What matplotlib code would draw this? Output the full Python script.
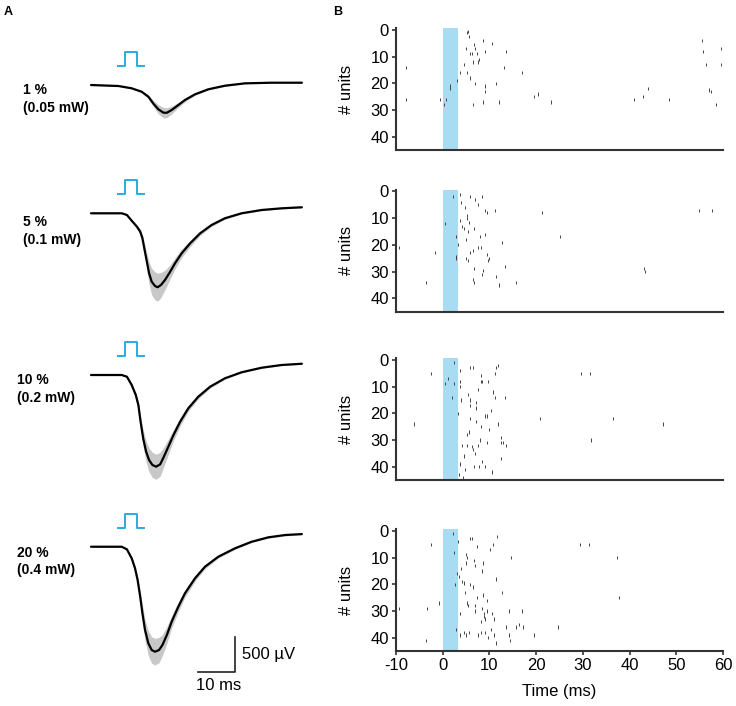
import matplotlib
matplotlib.use('Agg')
matplotlib.rc('font', **{'family': 'sans-serif', 'sans-serif': ['Liberation Sans', 'DejaVu Sans']})
matplotlib.rc('axes', unicode_minus=False)
import numpy as np
import matplotlib.pyplot as plt

# Panel A: mean field response (uV) vs time (ms), one trace per light power.
power_labels = ['1 %\n(0.05 mW)', '5 %\n(0.1 mW)', '10 %\n(0.2 mW)', '20 %\n(0.4 mW)']

t_1 = [-9.2, -1.8, 1.8, 4.5, 6.3, 7.6, 9.0, 10.4, 11.3, 12.6, 14.4, 16.2, 18.9, 22.5, 27.0, 32.4, 39.6, 47.8]
v_1 = [0, -14, -47, -96, -167, -262, -347, -396, -396, -357, -286, -214, -133, -61, -10, 24, 33, 33]
sem_1 = [5, 5, 8, 12, 25, 45, 65, 75, 70, 55, 35, 25, 15, 10, 8, 6, 5, 5]

t_5 = [-9.2, -0.9, 0.5, 1.8, 3.2, 4.1, 4.7, 5.2, 5.9, 6.5, 7.2, 8.1, 8.8, 9.7, 10.8, 12.2, 13.5, 15.3, 17.6,
       20.3, 23.4, 27.0, 31.5, 36.9, 42.3, 47.8]
v_5 = [0, 0, -24, -106, -191, -263, -357, -500, -692, -857, -977, -1039, -1057, -1025, -953, -835, -715, -572,
       -429, -286, -167, -71, 0, 47, 71, 86]
sem_5 = [5, 5, 8, 15, 25, 35, 50, 80, 120, 160, 190, 200, 200, 180, 140, 100, 80, 60, 45,
         30, 20, 15, 10, 10, 8, 8]

t_10 = [-9.2, -0.9, 0.5, 1.8, 2.9, 3.6, 4.2, 4.9, 5.7, 6.5, 7.4, 8.4, 9.5, 10.5, 11.7, 13.1, 14.9, 17.1, 19.8,
        23.0, 27.0, 31.5, 36.9, 42.3, 47.8]
v_10 = [0, 0, -24, -143, -286, -429, -667, -905, -1096, -1215, -1286, -1310, -1276, -1167, -1025, -857, -667,
        -476, -310, -167, -47, 39, 104, 143, 161]
sem_10 = [5, 5, 8, 20, 35, 50, 80, 120, 150, 170, 180, 180, 170, 140, 110, 80, 60, 40, 30,
          20, 12, 10, 8, 8, 8]

t_20 = [-9.2, -0.9, 0.5, 1.8, 2.7, 3.4, 4.1, 4.7, 5.4, 6.3, 7.2, 8.1, 9.2, 10.1, 11.3, 12.6, 14.4, 16.2, 18.9,
        21.6, 25.2, 29.7, 34.2, 38.7, 43.2, 47.8]
v_20 = [0, 0, -37, -166, -309, -476, -715, -952, -1190, -1380, -1476, -1500, -1476, -1405, -1262, -1072, -857,
        -666, -452, -286, -143, -23, 71, 134, 167, 181]
sem_20 = [5, 5, 8, 20, 35, 50, 80, 120, 150, 175, 190, 190, 180, 150, 120, 90, 70, 55, 40,
          30, 20, 15, 12, 12, 12, 12]

pulse_ms = 3.2

# Panel B: spike rasters, (time ms, unit index) per light power.
spk_t_1 = [-7.8, -7.8, -0.5, 0.2, 0.6, 1.5, 1.6, 3.1, 3.6, 4.5, 4.9, 5.1, 5.2, 5.4, 5.6, 5.8, 5.9, 6.3, 6.5, 6.6,
           6.9, 7.0, 7.4, 7.6, 7.7, 6.5, 8.6, 9.0, 9.1, 9.1, 8.6, 10.6, 11.4, 12.1, 13.1, 13.6, 17.0, 19.6, 20.4,
           23.2, 40.9, 42.9, 44.0, 48.4, 55.6, 55.8, 56.4, 57.1, 57.4, 58.6, 59.5, 59.6]
spk_u_1 = [14, 26, 26, 28, 26, 21, 22, 19, 16, 13, 7, 16, 1, 0.6, 2.5, 9, 18, 9, 12, 5.6,
           7, 20, 9, 12, 11, 28, 4, 23, 21, 8, 27, 5, 20, 27, 14, 8, 16, 25, 24,
           27, 26, 25, 22, 26, 4, 8, 13, 22.5, 23, 28, 7, 13]

spk_t_5 = [-9.3, -3.6, -1.6, 0.4, 2.2, 2.9, 3.2, 2.9, 2.8, 3.6, 4.0, 3.8, 4.1, 4.5, 4.7, 4.9, 4.9, 5.1, 5.2, 5.4,
           5.6, 5.4, 5.8, 5.9, 6.5, 6.6, 6.6, 6.5, 6.6, 7.0, 7.6, 7.6, 7.9, 8.3, 8.4, 8.4, 8.6, 9.1, 9.4, 9.1,
           9.5, 9.9, 9.6, 11.1, 11.4, 12.1, 12.6, 13.4, 15.6, 21.3, 25.1, 43.1, 43.3, 54.9, 57.7]
spk_u_5 = [21, 34, 23, 12, 2, 17, 20, 24.5, 25, 1, 4, 11, 13, 14, 6, 18, 25, 9, 10, 15,
           11.5, 26, 2, 23, 22, 14, 29, 33, 34, 3, 5, 21, 17, 21, 2, 31, 29.5, 7, 8, 16,
           23.5, 25, 26, 7, 32, 35, 19, 28, 34, 8, 17, 29, 30, 7, 7]

spk_t_10 = [-6.2, -2.5, 0.4, 1.1, 2.0, 2.4, 2.5, 3.2, 3.4, 3.6, 3.8, 3.8, 3.6, 4.0, 4.1, 4.5, 4.4, 4.7, 5.1, 5.2,
            5.4, 5.6, 5.8, 5.8, 5.9, 5.9, 6.5, 6.3, 6.5, 6.6, 7.0, 7.1, 7.2, 7.2, 7.6, 7.6, 7.7, 7.9, 8.1, 8.1,
            8.3, 8.4, 8.4, 9.0, 9.1, 9.4, 9.4, 9.6, 10.0, 10.4, 10.6, 10.8, 11.1, 11.1, 11.3, 11.9, 11.9, 12.4,
            12.5, 12.4, 12.9, 13.4, 13.6, 20.9, 29.6, 31.5, 31.8, 36.4, 47.1]
spk_u_10 = [24, 5, 9, 7, 14, 1, 9, 20, 43, 4, 8, 10, 39, 15, 32, 36, 44, 41, 32, 28,
            13, 27, 22, 17, 15, 3, 3, 32.5, 33.5, 40, 35, 16, 18, 23, 11, 32, 40, 30, 6, 8,
            25, 8, 38, 21, 40, 21, 31, 8, 26, 19, 42, 12, 14, 5, 3, 2, 24, 37,
            29, 31, 31, 14, 32, 22, 5, 5, 30, 22, 24]

spk_t_20 = [-9.3, -3.6, -3.4, -2.6, -0.9, 2.1, 2.4, 2.7, 2.9, 3.1, 3.3, 3.4, 3.8, 3.8, 4.0, 4.1, 4.5, 4.5, 4.7, 4.9,
            4.9, 5.0, 5.2, 5.2, 5.4, 5.6, 5.8, 5.9, 6.3, 6.5, 6.8, 6.9, 7.0, 7.0, 7.4, 7.4, 7.6, 8.1, 8.2, 8.4,
            8.6, 8.4, 8.6, 8.8, 8.9, 9.1, 9.1, 9.4, 9.5, 9.7, 10.1, 10.4, 10.6, 10.7, 10.9, 10.9, 11.3, 11.4,
            11.6, 12.7, 13.6, 14.1, 14.1, 14.4, 14.7, 15.7, 16.3, 16.9, 17.1, 19.5, 24.7, 29.3, 31.3, 37.4, 37.7]
spk_u_20 = [29, 41, 29, 5, 27, 1, 8, 20, 37, 16, 4, 17, 31, 39, 14, 19, 19.5, 38, 23, 12,
            9, 39, 10, 27, 28, 38, 3, 20, 3, 21, 11, 13, 28, 30, 6, 25, 39, 34, 38, 15,
            12, 29, 24, 31, 32, 33, 38, 26, 30, 40, 7, 37, 31, 5, 33, 39, 42, 18,
            2, 23, 36, 30, 39, 41, 10, 36, 35, 30, 36, 39, 36, 5, 5, 10, 25]

traces = [(t_1, v_1, sem_1), (t_5, v_5, sem_5), (t_10, v_10, sem_10), (t_20, v_20, sem_20)]
rasters = [(spk_t_1, spk_u_1), (spk_t_5, spk_u_5), (spk_t_10, spk_u_10), (spk_t_20, spk_u_20)]

W, H = 736, 706
fig = plt.figure(figsize=(W / 100, H / 100), dpi=100)

# ---- Panel A (one axes, data in ms / uV, rows stacked by offset) ----
ax_a = fig.add_axes([0, 0, 330 / W, 1])
ax_a.set_xlim(-33.8, 55.4)
ax_a.set_ylim(-8874, 1215)
ax_a.axis('off')

row_offsets = [0, -1833, -4144, -6598]
label_pos = [(22.7, 99.2), (22.7, 230.8), (16.7, 388.7), (16.7, 561.5)]
for (t, v, sem), off, label, (lx, ly) in zip(traces, row_offsets, power_labels, label_pos):
    t = np.array(t)
    v = np.array(v) + off
    sem = np.array(sem)
    ax_a.fill_between(t, v - sem, v + sem, color='#c8c8c8', linewidth=0)
    ax_a.plot(t, v, color='black', lw=1.6, solid_joinstyle='round', solid_capstyle='round')
    # light pulse
    base = off + 270
    ax_a.plot([-1.9, 0, 0, pulse_ms, pulse_ms, 5.1],
              [base, base, base + 200, base + 200, base, base],
              color='#29abe2', lw=1.4)
    fig.text(lx / W, 1 - ly / H, label, fontsize=10, fontweight='bold',
             ha='left', va='center', linespacing=1.35)

# scale bar: 10 ms, 500 uV
ax_a.plot([19.7, 29.7, 29.7], [-8388, -8388, -7888], color='#222222', lw=1.2)
fig.text(242 / W, 1 - 655 / H, '500 µV', fontsize=12, ha='left', va='center')
fig.text(219 / W, 1 - 686 / H, '10 ms', fontsize=12, ha='center', va='center')

fig.text(4 / W, 1 - 12 / H, 'A', fontsize=9, fontweight='bold', ha='left', va='center')
fig.text(333 / W, 1 - 12 / H, 'B', fontsize=9, fontweight='bold', ha='left', va='center')

# ---- Panel B rasters ----
bottoms = [150, 311.6, 480, 651]
ax_left = 396 / W
ax_w = (723 - 396) / W
ax_h = 122 / H
for i, ((st, su), bot) in enumerate(zip(rasters, bottoms)):
    ax = fig.add_axes([ax_left, 1 - bot / H, ax_w, ax_h])
    ax.axvspan(0, pulse_ms, color='#a8dcf2', lw=0)
    su = np.array(su)
    ax.vlines(st, su - 0.6, su + 0.6, color='#444444', lw=0.7)
    ax.set_xlim(-10, 60)
    ax.set_ylim(45, -0.7)
    ax.set_yticks([0, 10, 20, 30, 40])
    ax.spines['top'].set_visible(False)
    ax.spines['right'].set_visible(False)
    for s in ['left', 'bottom']:
        ax.spines[s].set_linewidth(1.5)
        ax.spines[s].set_color('#333333')
    ax.tick_params(axis='y', labelsize=12, length=3, width=1.2, color='#333333', pad=2)
    ax.set_ylabel('# units', fontsize=12)
    ax.yaxis.set_label_coords(-0.128, 0.5)
    if i == 3:
        ax.set_xticks([-10, 0, 10, 20, 30, 40, 50, 60])
        ax.tick_params(axis='x', labelsize=12, length=3, width=1.2, color='#333333', pad=2)
        ax.set_xlabel('Time (ms)', fontsize=12, labelpad=8)
    else:
        ax.set_xticks([])

fig.savefig('out.png', dpi=100)
